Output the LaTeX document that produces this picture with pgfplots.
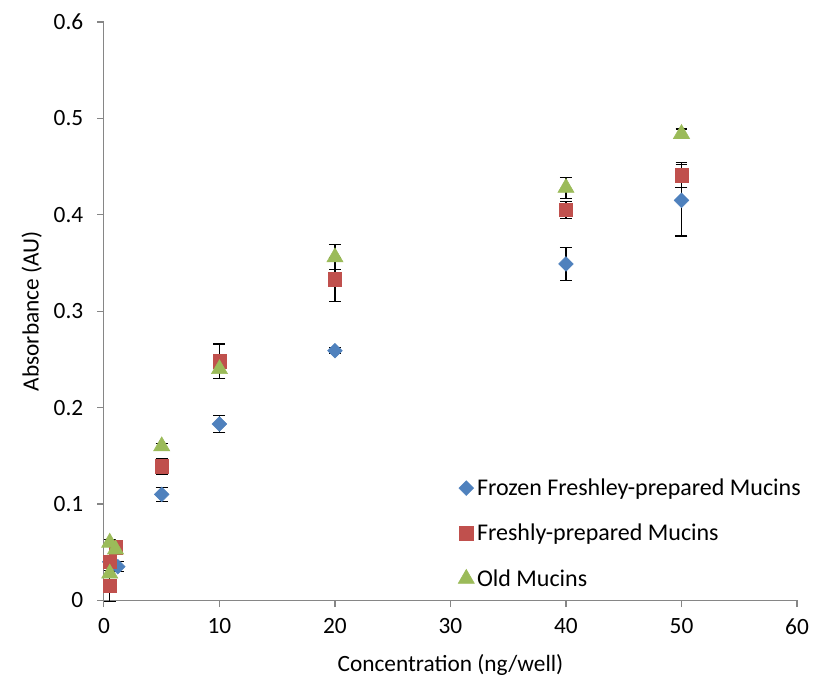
\documentclass[border=0pt]{standalone}
\usepackage{fontspec}
\setmainfont{Carlito}
\usepackage{pgfplots}
\pgfplotsset{compat=1.18}

\definecolor{exblue}{HTML}{4F81BD}
\definecolor{exred}{HTML}{C0504D}
\definecolor{exgreen}{HTML}{9BBB59}
\definecolor{axgray}{HTML}{868686}

\begin{document}
\begin{tikzpicture}
\useasboundingbox (-78pt,-58.5pt) rectangle (532pt,450.5pt);
\begin{axis}[
  at={(0,0)}, anchor=south west,
  width=520pt, height=434pt,
  scale only axis,
  xmin=0, xmax=60, ymin=0, ymax=0.6,
  xtick={0,10,...,60},
  ytick={0,0.1,...,0.6},
  axis x line=bottom, axis y line=left,
  axis line style={axgray, -, line width=0.8pt},
  tick style={axgray, line width=0.8pt},
  tick align=outside,
  major tick length=5pt,
  every tick label/.append style={font=\fontsize{17.5}{20}\selectfont, black},
  /pgf/number format/assume math mode=true,
  yticklabel style={/pgf/number format/fixed, /pgf/number format/precision=1},
  every y tick label/.append style={xshift=-7pt},
  every x tick label/.append style={yshift=-5pt},
  xlabel={Concentration (ng/well)},
  ylabel={Absorbance (AU)},
  every axis label/.append style={font=\fontsize{17.5}{20}\selectfont},
  xlabel style={yshift=-8pt},
  ylabel style={yshift=2pt},
  clip=false,
  legend style={draw=none, fill=none, font=\fontsize{18}{21}\selectfont,
    at={(0.505,0.22)}, anchor=north west, row sep=16pt,
    legend cell align=left},
  legend image code/.code={\draw[#1] plot coordinates {(0.15cm,0cm)};},
  error bars/y dir=both, error bars/y explicit,
  error bars/error bar style={black, line width=0.8pt},
  error bars/error mark options={black, rotate=90, mark size=4.5pt, line width=0.8pt},
]
\addplot[only marks, mark=square*, mark size=3.9pt, mark options={rotate=45}, color=exblue]
  coordinates {
  (0.5,0.040) +- (0,0.004)
  (1.2,0.035) +- (0,0.005)
  (5,0.110) +- (0,0.007)
  (10,0.183) +- (0,0.009)
  (20,0.259) +- (0,0.003)
  (40,0.349) +- (0,0.017)
  (50,0.415) +- (0,0.037)
};
\addlegendentry{Frozen Freshley-prepared Mucins}
\addplot[only marks, mark=square*, mark size=5pt, color=exred]
  coordinates {
  (0.5,0.015) +- (0,0.016)
  (0.5,0.040) +- (0,0.004)
  (1,0.055) +- (0,0.007)
  (5,0.139) +- (0,0.008)
  (10,0.248) +- (0,0.018)
  (20,0.333) +- (0,0.023)
  (40,0.405) +- (0,0.009)
  (50,0.441) +- (0,0.013)
};
\addlegendentry{Freshly-prepared Mucins}
\addplot[only marks, mark=triangle*, mark size=7pt, color=exgreen]
  coordinates {
  (0.5,0.028) +- (0,0.003)
  (0.5,0.060) +- (0,0.003)
  (1,0.053) +- (0,0.003)
  (5,0.160) +- (0,0.003)
  (10,0.240) +- (0,0.003)
  (20,0.356) +- (0,0.013)
  (40,0.428) +- (0,0.011)
  (50,0.484) +- (0,0.005)
};
\addlegendentry{Old Mucins}
\end{axis}
\end{tikzpicture}
\end{document}
